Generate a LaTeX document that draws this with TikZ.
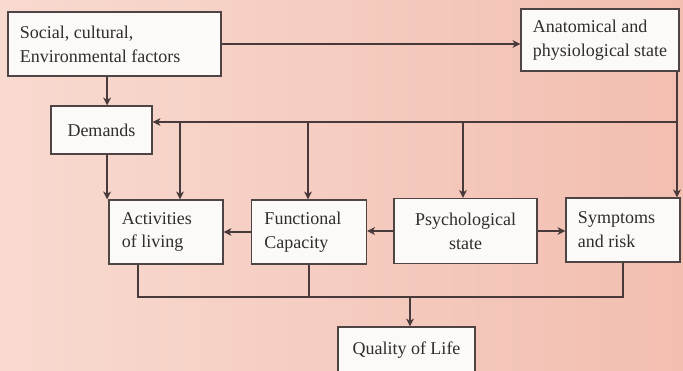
\documentclass[tikz,border=0pt]{standalone}
\usepackage{fontspec}
\setmainfont{Liberation Serif}
\usetikzlibrary{arrows.meta,calc}

\definecolor{bgl}{RGB}{248,218,208}
\definecolor{bgm}{RGB}{252,230,220}
\definecolor{bgr}{RGB}{242,190,176}
\definecolor{edge}{RGB}{78,68,68}
\definecolor{boxfill}{RGB}{251,250,248}
\definecolor{wire}{RGB}{72,58,58}
\definecolor{ink}{RGB}{50,44,44}

\begin{document}
\begin{tikzpicture}[x=0.025cm,y=-0.025cm,
  blk/.style={draw=edge,fill=boxfill,text=ink,line width=0.9pt,inner ysep=0pt,
    font=\fontsize{12.8}{17}\selectfont},
  lft/.style={blk,align=flush left},
  ctr/.style={blk,align=flush center},
  wireline/.style={draw=wire,line width=1pt},
  arr/.style={wireline,-{Stealth[length=5.5pt,width=5.5pt,inset=1.5pt]}}]

% page and background
\useasboundingbox (0,0) rectangle (683,370);
\clip (0,0) rectangle (683,370);
\shade[left color=bgl,middle color=bgm,right color=bgr] (0,0) rectangle (683,370);

% boxes
\node[lft,inner xsep=0.3cm,text width=4.725cm,minimum height=1.6cm] (soc) at (114.5,44)
  {Social, cultural,\\Environmental factors};
\node[lft,inner xsep=0.3cm,text width=3.35cm,minimum height=1.55cm] (anat) at (600,40)
  {Anatomical and\\physiological state};
\node[ctr,inner xsep=0.15cm,text width=2.225cm,minimum height=1.2cm] (dem) at (101.5,130)
  {Demands};
\node[lft,inner xsep=0.325cm,text width=2.2cm,minimum height=1.6cm] (act) at (166,232)
  {Activities\\of living};
\node[lft,inner xsep=0.325cm,text width=2.225cm,minimum height=1.6cm] (fun) at (309,232)
  {Functional\\Capacity};
\node[ctr,inner xsep=0.2cm,text width=3.175cm,minimum height=1.625cm] (psy) at (465.5,231)
  {Psychological\\state};
\node[lft,inner xsep=0.3cm,text width=2.25cm,minimum height=1.6cm] (sym) at (623,230)
  {Symptoms\\and risk};
\node[ctr,inner xsep=0.2cm,text width=3.025cm,minimum height=1.175cm] (qol) at (406.5,350.5)
  {Quality of Life};

% top connections
\draw[arr] (soc.east) -- (soc.east -| anat.west);
\draw[arr] ([xshift=0.14cm]dem.north |- soc.south) -- ([xshift=0.14cm]dem.north);
\draw[arr] ([xshift=0.14cm]dem.south) -- ([xshift=0.14cm]dem.south |- act.north);

% feedback bus from anatomical state
\coordinate (bus) at (677,122);
\draw[arr] (anat.south -| bus) -- (bus |- sym.north);
\draw[arr] (bus) -- (bus -| dem.east);
\foreach \n/\x in {act/180,fun/308,psy/463}{
  \coordinate (d\n) at (\x,122);
  \draw[arr] (d\n) -- (d\n |- \n.north);
}

% middle row
\draw[arr] (fun.west) -- (act.east);
\draw[arr] (psy.west) -- (psy.west -| fun.east);
\draw[arr] (psy.east) -- (psy.east -| sym.west);

% collect into quality of life
\coordinate (jn) at (410,297);
\draw[wireline] ([xshift=-0.7cm]act.south) |- (jn) -| (sym.south);
\draw[wireline] (fun.south) -- (fun.south |- jn);
\draw[arr] (jn) -- (jn |- qol.north);
\end{tikzpicture}
\end{document}
